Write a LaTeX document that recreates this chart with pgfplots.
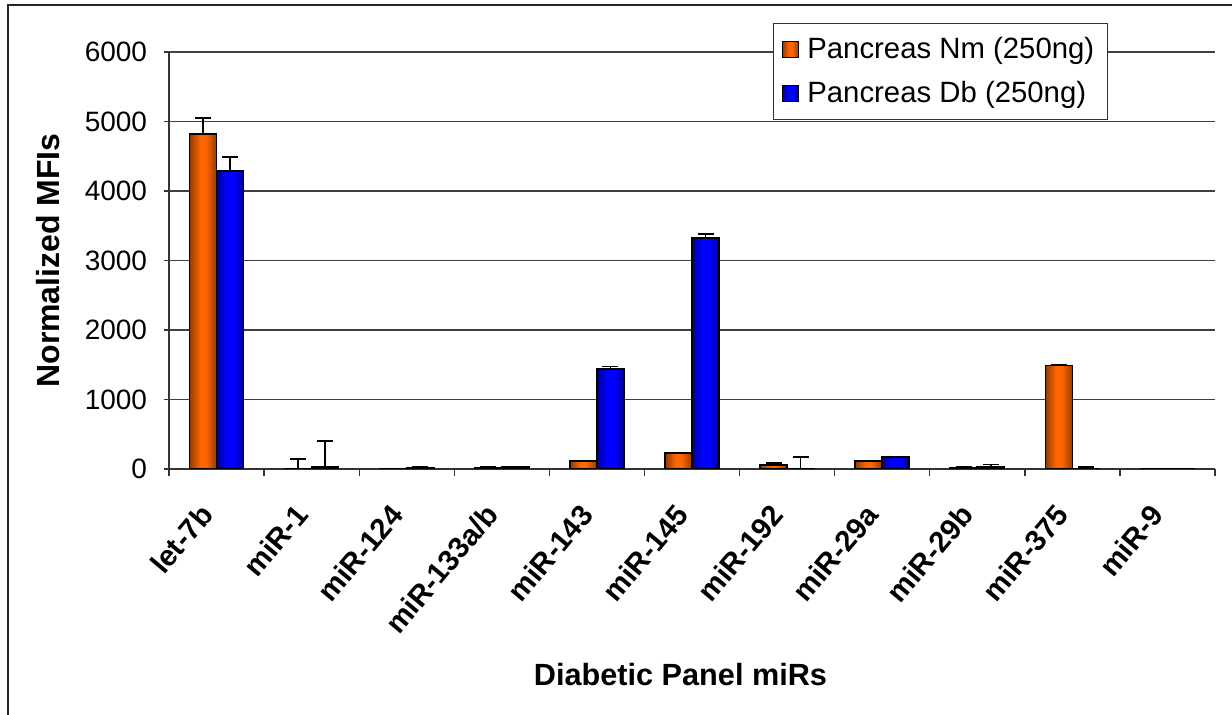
\documentclass[border=0pt]{standalone}
\usepackage{pgfplots}
\pgfplotsset{compat=1.18}
\usepackage{pgfplotstable}
\usepackage{fontspec}
\setmainfont{Liberation Sans}
\definecolor{odark}{RGB}{150,58,0}
\definecolor{obright}{RGB}{255,102,0}
\definecolor{bdark}{RGB}{0,0,140}
\definecolor{bbright}{RGB}{0,0,255}
\pgfdeclarehorizontalshading{orangebar}{100bp}{color(0bp)=(odark); color(25bp)=(odark); color(45bp)=(obright); color(55bp)=(obright); color(75bp)=(odark); color(100bp)=(odark)}
\pgfdeclarehorizontalshading{bluebar}{100bp}{color(0bp)=(bdark); color(25bp)=(bdark); color(42bp)=(bbright); color(58bp)=(bbright); color(75bp)=(bdark); color(100bp)=(bdark)}

% xo / xb: bar centres of the two series within each category slot
\pgfplotstableread{
xo      xb      nm    nmerr  db    dberr
-0.142  0.142   4820  230    4290  200
0.858   1.142   5     140    30    370
1.858   2.142   3     0      12    18
2.858   3.142   15    15     30    5
3.858   4.142   115   10     1440  35
4.858   5.142   230   5      3325  55
5.858   6.142   60    30     3     170
6.858   7.142   115   5      170   5
7.858   8.142   20    5      25    40
8.858   9.142   1490  5      10    20
9.858   10.142  3     0      3     0
}\datatable

\begin{document}
\begin{tikzpicture}[x=1pt,y=1pt]
\useasboundingbox (0,0) rectangle (462,268.125);
\draw[line width=0.6pt, black!85] (3,0) -- (3,266.25) -- (462,266.25);
\begin{axis}[
  at={(63.375pt,92.25pt)}, anchor=south west,
  scale only axis, width=392.25pt, height=156.375pt,
  xmin=-0.5, xmax=10.5, ymin=0, ymax=6000,
  axis x line=bottom, axis y line=left,
  axis line style={-, line width=0.5pt, black!80},
  ytick={0,1000,...,6000},
  xtick={0,...,10},
  xticklabels={let-7b,miR-1,miR-124,miR-133a/b,miR-143,miR-145,miR-192,miR-29a,miR-29b,miR-375,miR-9},
  minor xtick={-0.5,0.5,...,10.5},
  major x tick style={draw=none},
  minor x tick style={draw=black!80, line width=0.5pt},
  major tick length=1.9pt, minor tick length=2.6pt,
  tick align=outside,
  y tick style={draw=black!80, line width=0.5pt},
  ymajorgrids, grid style={black!75, line width=0.4pt},
  /pgf/number format/assume math mode=true,
  /pgf/number format/1000 sep={},
  scaled y ticks=false,
  yticklabel style={font=\fontsize{10.5}{12}\selectfont, xshift=-2.8pt},
  xticklabel style={font=\bfseries\fontsize{11}{12}\selectfont, xshift=-1.5pt, yshift=-10.5pt, rotate=50, anchor=east},
  ylabel={\textbf{Normalized MFIs}},
  ylabel style={font=\fontsize{12}{14}\selectfont, at={(axis description cs:-0.1157,0.5)}, anchor=center},
  xlabel={\textbf{Diabetic Panel miRs}},
  xlabel style={font=\fontsize{11.5}{14}\selectfont, at={(axis description cs:0.489,-0.494)}, anchor=center},
  legend style={at={(0.898,1.0695)}, anchor=north east, draw=black!80, line width=0.5pt,
    font=\fontsize{11}{13}\selectfont, row sep=3pt, inner sep=3pt},
  legend cell align=left,
  legend image code/.code={\draw[#1] (0.5pt,-3pt) rectangle (6.5pt,3pt); \path (7.5pt,0pt);},
]
\pgfplotsinvokeforeach{0,...,10}{
\addplot[forget plot, ybar, bar width=10.125pt, bar shift=0pt,
  draw=black, line width=0.6pt, shade, shading=orangebar,
  x filter/.expression={abs(x-#1)<0.3 ? x : nan}]
  table[x=xo, y=nm] {\datatable};
\addplot[forget plot, ybar, bar width=10.125pt, bar shift=0pt,
  draw=black, line width=0.6pt, shade, shading=bluebar,
  x filter/.expression={abs(x-#1)<0.3 ? x : nan}]
  table[x=xb, y=db] {\datatable};
}
\addplot[forget plot, draw=none, mark=none,
  error bars/.cd, y dir=plus, y explicit,
  error bar style={draw=black, line width=0.6pt},
  error mark options={draw=black, line width=0.6pt, mark size=3pt, rotate=90}]
  table[x=xo, y=nm, y error=nmerr] {\datatable};
\addplot[forget plot, draw=none, mark=none,
  error bars/.cd, y dir=plus, y explicit,
  error bar style={draw=black, line width=0.6pt},
  error mark options={draw=black, line width=0.6pt, mark size=3pt, rotate=90}]
  table[x=xb, y=db, y error=dberr] {\datatable};
\addlegendimage{draw=black, line width=0.6pt, shade, shading=orangebar}
\addlegendentry{Pancreas Nm (250ng)}
\addlegendimage{draw=black, line width=0.6pt, shade, shading=bluebar}
\addlegendentry{Pancreas Db (250ng)}
\end{axis}
\end{tikzpicture}
\end{document}
